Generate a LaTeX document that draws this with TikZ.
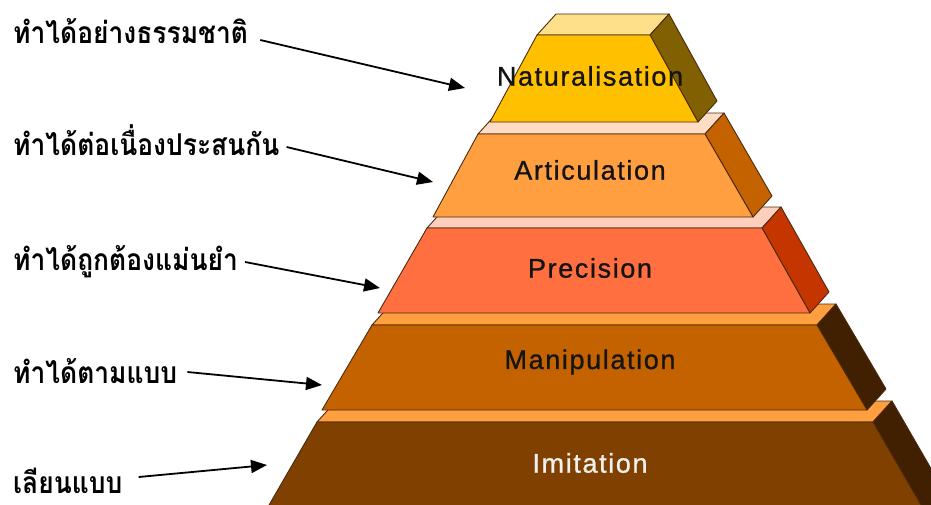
\documentclass[tikz,border=0pt]{standalone}
\usepackage{fontspec}
\setmainfont{Liberation Sans}
\newfontfamily\thaifont[Script=Thai, FakeStretch=0.88]{Loma}
\newfontfamily\tierfont[LetterSpace=6, FakeBold=0.9]{Liberation Sans}
\usetikzlibrary{arrows.meta}

% face colours of the five tiers
\definecolor{natFront}{HTML}{FFC000}
\definecolor{natTop}{HTML}{FFE08A}
\definecolor{natSide}{HTML}{806000}
\definecolor{artFront}{HTML}{FF9F40}
\definecolor{artTop}{HTML}{FFDCC4}
\definecolor{artSide}{HTML}{C46200}
\definecolor{preFront}{HTML}{FF6F40}
\definecolor{preTop}{HTML}{FFCFBE}
\definecolor{preSide}{HTML}{C43500}
\definecolor{manFront}{HTML}{C46200}
\definecolor{manTop}{HTML}{FF9F40}
\definecolor{manSide}{HTML}{402000}
\definecolor{imiFront}{HTML}{804000}
\definecolor{imiTop}{HTML}{FF9F40}
\definecolor{imiSide}{HTML}{402000}
\definecolor{tierText}{HTML}{141414}
\definecolor{edge}{HTML}{4A2A10}

% one tier of the pyramid: top face, right side face, front face
% #1 colour prefix, #2 top y, #3 bottom y,
% #4 left x at top, #5 left x at bottom, #6 right x at top, #7 right x at bottom
\newcommand\pyrtier[7]{%
  \filldraw[face, fill=#1Top]
    (#4,#2) -- (#6,#2) -- ({#6+19},{#2-21}) -- ({#4+19},{#2-21}) -- cycle;
  \filldraw[face, fill=#1Side]
    (#6,#2) -- ({#6+19},{#2-21}) -- ({#7+19},{#3-21}) -- (#7,#3) -- cycle;
  \filldraw[face, fill=#1Front]
    (#4,#2) -- (#6,#2) -- (#7,#3) -- (#5,#3) -- cycle;
}

\begin{document}
\begin{tikzpicture}[x=1pt, y=-1pt,
  face/.style={draw=edge, line width=0.9pt, line join=round},
  tiertext/.style={font=\tierfont\fontsize{27}{30}\selectfont, text=tierText},
  thailabel/.style={font=\thaifont\bfseries\fontsize{30}{32}\selectfont,
    anchor=base west, inner sep=0pt, text depth=0pt},
  pointer/.style={line width=1.8pt, -{Triangle[length=16pt,width=13pt]}}]

\useasboundingbox (0,0) rectangle (931,504);
\clip (0,0) rectangle (931,504);

% tiers, from the base upward
\pyrtier{imi}{422}{512}{317}{265}{873}{925}
\pyrtier{man}{325}{410}{372}{322}{817}{867}
\pyrtier{pre}{228}{313}{427}{378}{762}{810}
\pyrtier{art}{134}{217}{478}{433}{705}{753}
\pyrtier{nat}{35}{122}{537}{490}{650}{698}

% tier names
\node[tiertext] (nat) at (590,76)  {Naturalisation};
\node[tiertext] (art) at (590,170) {Articulation};
\node[tiertext] (pre) at (590,268) {Precision};
\node[tiertext] (man) at (590,362) {Manipulation};
\node[tiertext, text=white!94!black] (imi) at (590,463) {Imitation};

% Thai descriptions
\node[thailabel] (l1) at (13,43)  {ทำได้อย่างธรรมชาติ};
\node[thailabel] (l2) at (13,155) {ทำได้ต่อเนื่องประสนกัน};
\node[thailabel] (l3) at (13,270) {ทำได้ถูกต้องแม่นยำ};
\node[thailabel] (l4) at (13,383) {ทำได้ตามแบบ};
\node[thailabel] (l5) at (13,493) {เลียนแบบ};

% arrow tips at the left slope of the pyramid
\coordinate (t1) at (465,88);
\coordinate (t2) at (433,182);
\coordinate (t3) at (380,288);
\coordinate (t4) at (322,385);
\coordinate (t5) at (267,465);

\draw[pointer] ([xshift=12pt, yshift=3pt]l1.base east)  -- (t1);
\draw[pointer] ([xshift=7pt,  yshift=8pt]l2.base east)  -- (t2);
\draw[pointer] ([xshift=7pt,  yshift=8pt]l3.base east)  -- (t3);
\draw[pointer] ([xshift=10pt, yshift=11pt]l4.base east) -- (t4);
\draw[pointer] ([xshift=16pt, yshift=16pt]l5.base east) -- (t5);
\end{tikzpicture}
\end{document}
